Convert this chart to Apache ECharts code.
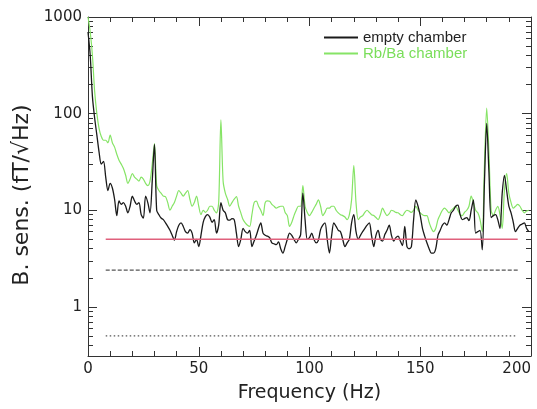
<!DOCTYPE html>
<html><head><meta charset="utf-8">
<script src="https://cdn.jsdelivr.net/npm/echarts@6/dist/echarts.min.js"></script>
<style>html,body{margin:0;padding:0;background:#fff}#c{width:537px;height:409px}</style>
</head><body><div id="c"></div>
<script>
// Frequencies 0..200 Hz, 1 Hz steps
const emptyChamber = [700,400,150,90,60,40,30,32,22,16,19,17,13,8.8,12.5,11.5,12,11,9.4,11,
14,12.5,11.5,12,9,8.3,14,12,9.4,20,48,10,9,8.3,8,7.4,6.8,6.2,5.5,4.9,
6,7,7.4,6.8,6,5.8,6.3,5.8,4.6,5,4.2,5.5,7.5,8.6,9,8.5,7.5,8,5.8,7,
12,10,9.4,8,7.9,8.2,8,5.8,4.2,5,6.5,6,5.8,6.2,4.2,4.8,5.5,6.5,7.4,5.8,
5.5,5.4,5.2,4.6,4.5,4.4,4.7,4,3.6,4.2,5,5.8,5.5,5,4.6,5,5.6,15,8,5,
5.2,5.8,5,4.6,4.9,6.3,7,7.4,5,3.6,5.5,7.4,6.8,6.2,6,5,4.2,4.6,5,7.4,
9,6,5,5.5,6,6.5,7,7.4,5.5,4.2,5.5,6.2,5,4.8,5.6,6.2,7,5.5,4.8,5.2,
5.4,4.8,4.3,6.8,4.2,4,4.2,8,12.8,11,8.8,6.5,5.4,4.6,4,3.6,3.6,4,5.5,6.2,
7,7.4,7,8,9.4,10,11,11.3,9,8,8.2,8.4,7.8,10,12.8,5.8,6,6.2,3.9,20,
79,25,8.4,8.8,9,8,6.5,15,23,16,11,9.4,7.5,6,6.5,7,7.2,7.4,6.5,6];
const rbBaChamber = [1000,700,400,170,100,70,58,53,53,50,60,50,45,38,33,30,27,23,19,21,
24,22,21,20,22,21,19,18,20,30,49,18,16,15,14,13.8,12,10,11,12,
14,16,15,14,15,16,13,11,12,14,11,9,10,9.5,10,11,11,10,9.4,12,
86,20,15,13,11,12,13,13.8,11,9.4,8,7.4,7,6.8,9,12,12.4,11,10,8.8,
12,12.5,12.4,11.5,11,10.5,10.8,11,11,9.5,8.8,6.8,7.5,8.8,10,11,11,18,11,9.5,
8.8,9.5,10.5,11.5,12.8,11,8.8,9.5,10.5,10.5,11,11,10,9.4,9,8.8,8.5,8,9,12.8,
29,12,8,8.5,8.8,9.5,10,9.5,9,8.8,8.4,8,9,10.5,9.5,8.8,9.2,10,9.8,9.5,
9.4,9,8.8,9.5,10,9.8,9.5,10,11,10,9.4,9,8.8,8.8,7.5,6.5,6,6.5,8,9,
10,10.5,10,9.4,10,10.5,11,10,9,8.8,9.5,10,11,14,12,10,9.4,8,6,30,
114,40,10,8.8,10,11,9,6.5,16,24,15,12,10.5,11,11.5,11,10,9.4,9.8,10,10.5];
const refRange = [8, 194];
const redLevel = 5;
const dashedLevel = 2.4;
const dottedLevel = 0.5;
const yMajorTicks = [1, 10, 100, 1000];
const yMinorTicks = [0.4,0.5,0.6,0.7,0.8,0.9,2,3,4,5,6,7,8,9,20,30,40,50,60,70,80,90,200,300,400,500,600,700,800,900];

const freq = emptyChamber.map((_, i) => i);
const pairs = arr => arr.map((v, i) => [freq[i], v]);
const hline = v => [[refRange[0], v], [refRange[1], v]];

const fontH = 'Liberation Sans, Arial, sans-serif';
const fontD = 'DejaVu Sans, sans-serif';
const axisColor = '#333';
const baseY = (pos, show, ticks, len, extra) => Object.assign({
  type: 'log', logBase: 10, min: 0.31, max: 1000, position: pos,
  axisLine: {show: show, onZero: false, lineStyle: {color: axisColor, width: 1}},
  splitLine: {show: false},
  axisTick: {show: true, inside: true, length: len, customValues: ticks, lineStyle: {color: axisColor, width: 1}},
  axisLabel: {show: false}
}, extra || {});
const baseX = (pos, extra) => Object.assign({
  type: 'value', min: 0, max: 200, interval: 50, position: pos,
  axisLine: {show: true, onZero: false, lineStyle: {color: axisColor, width: 1}},
  splitLine: {show: false},
  axisTick: {show: true, inside: true, length: 9, lineStyle: {color: axisColor, width: 1}},
  minorTick: {show: true, splitNumber: 5, length: 5, lineStyle: {color: axisColor, width: 1}},
  axisLabel: {show: false}
}, extra || {});

const chart = echarts.init(document.getElementById('c'));
chart.setOption({
  animation: false,
  backgroundColor: '#fff',
  grid: {left: 88, right: 6, top: 17, bottom: 53, outerBoundsMode: 'none', containLabel: false},
  legend: {
    show: true, padding: 0,
    orient: 'vertical', left: 323, top: 30, itemGap: 1, itemWidth: 34, itemHeight: 15,
    itemStyle: {opacity: 0},
    data: [
      {name: 'empty chamber', textStyle: {color: '#222'}},
      {name: 'Rb/Ba chamber', textStyle: {color: '#7ade5a'}}
    ],
    textStyle: {fontFamily: fontH, fontSize: 15, color: '#222'}
  },
  xAxis: [
    baseX('bottom', {
      axisLabel: {show: true, color: '#222', fontSize: 15, fontFamily: fontD, margin: 6, alignMaxLabel: 'right'},
      name: 'Frequency (Hz)', nameLocation: 'middle', nameGap: 28,
      nameTextStyle: {fontSize: 19, fontFamily: fontD, color: '#222'}
    }),
    baseX('top')
  ],
  yAxis: [
    baseY('left', true, yMajorTicks, 9, {
      axisLabel: {show: true, color: '#222', fontSize: 15, fontFamily: fontD, margin: 6, customValues: yMajorTicks,
        formatter: v => String(Math.round(v))},
      name: 'B. sens. (fT/\u221AHz)', nameLocation: 'middle', nameGap: 53,
      nameTextStyle: {fontSize: 22, fontFamily: fontD, color: '#222', padding: [0, 17, 0, 0]}
    }),
    baseY('left', false, yMinorTicks, 5),
    baseY('right', true, yMajorTicks, 9),
    baseY('right', false, yMinorTicks, 5)
  ],
  series: [
    {name: 'dotted', type: 'line', data: hline(dottedLevel), symbol: 'none', silent: true,
      lineStyle: {color: '#555', width: 1.3, type: [1.5, 2.5]}},
    {name: 'dashed', type: 'line', data: hline(dashedLevel), symbol: 'none', silent: true,
      lineStyle: {color: '#555', width: 1.3, type: [4, 2]}},
    {name: 'Rb/Ba chamber', type: 'line', data: pairs(rbBaChamber), symbol: 'none', smooth: 0.3,
      lineStyle: {color: '#86e466', width: 1.2}, itemStyle: {color: '#86e466'}},
    {name: 'empty chamber', type: 'line', data: pairs(emptyChamber), symbol: 'none', smooth: 0.3,
      lineStyle: {color: '#1a1a1a', width: 1.3}, itemStyle: {color: '#1a1a1a'}},
    {name: 'red', type: 'line', data: hline(redLevel), symbol: 'none', silent: true,
      lineStyle: {color: '#e0607c', width: 1.6}}
  ]
});
</script></body></html>
